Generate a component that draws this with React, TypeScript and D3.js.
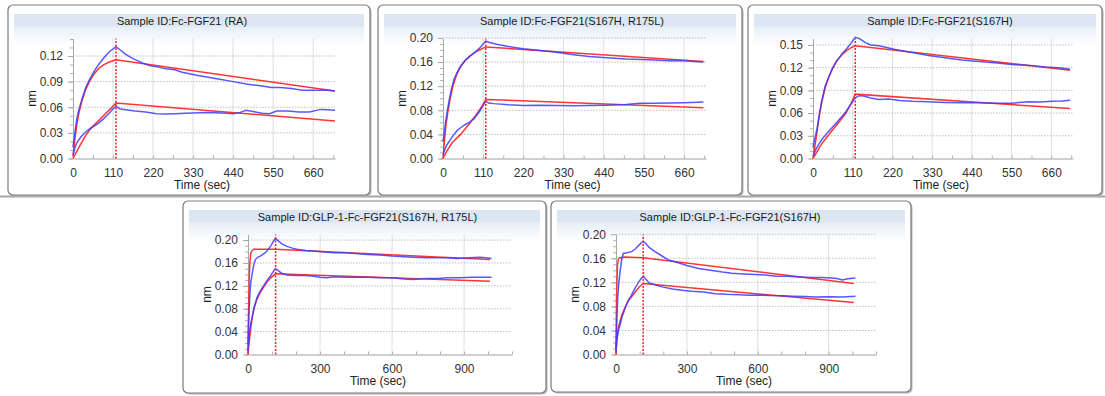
import { useEffect, useRef } from "react"
import * as d3 from "d3"

type Pt = [number, number]

const titles = [
  "Sample ID:Fc-FGF21 (RA)",
  "Sample ID:Fc-FGF21(S167H, R175L)",
  "Sample ID:Fc-FGF21(S167H)",
  "Sample ID:GLP-1-Fc-FGF21(S167H, R175L)",
  "Sample ID:GLP-1-Fc-FGF21(S167H)",
]

// tick values
const shortTimeTicks = [0, 110, 220, 330, 440, 550, 660]
const longTimeTicks = [0, 300, 600, 900]
const ticks003 = [0, 0.03, 0.06, 0.09, 0.12]
const ticks003b = [0, 0.03, 0.06, 0.09, 0.12, 0.15]
const ticks004 = [0, 0.04, 0.08, 0.12, 0.16, 0.2]
const dissociationStart = [118, 117, 117, 115, 115]

// Panel 1 - Fc-FGF21 (RA)
const p1BlueHigh: Pt[] = [[0,0.013],[5,0.03],[10,0.045],[16,0.057],[25,0.07],[35,0.083],[45,0.092],[58,0.102],[72,0.111],[85,0.118],[100,0.125],[118,0.131],[130,0.127],[145,0.122],[165,0.117],[190,0.112],[210,0.109],[235,0.107],[255,0.105],[280,0.104],[300,0.101],[347,0.097],[400,0.093],[440,0.09],[480,0.087],[520,0.085],[545,0.083],[570,0.083],[600,0.082],[630,0.08],[670,0.08],[700,0.08],[720,0.079]]
const p1RedHigh: Pt[] = [[0,0.002],[5,0.022],[10,0.038],[16,0.053],[25,0.068],[35,0.081],[45,0.09],[58,0.099],[72,0.106],[85,0.11],[100,0.113],[118,0.1155],[720,0.079]]
const p1BlueLow: Pt[] = [[0,0.004],[5,0.012],[10,0.018],[16,0.022],[25,0.027],[35,0.031],[44,0.034],[55,0.037],[72,0.042],[85,0.047],[99,0.053],[110,0.058],[118,0.061],[130,0.058],[145,0.057],[170,0.0555],[200,0.0545],[230,0.0525],[255,0.052],[280,0.0525],[310,0.053],[347,0.0535],[380,0.054],[420,0.053],[440,0.0525],[460,0.054],[475,0.0565],[495,0.055],[520,0.053],[540,0.0525],[560,0.0555],[590,0.0555],[620,0.0545],[650,0.0545],[680,0.0575],[700,0.057],[720,0.0565]]
const p1RedLow: Pt[] = [[0,0],[10,0.008],[20,0.016],[35,0.027],[50,0.036],[72,0.045],[90,0.053],[105,0.059],[118,0.065],[720,0.044]]

// Panel 2 - Fc-FGF21(S167H, R175L)
const p2BlueHigh: Pt[] = [[0,0.028],[4,0.045],[7,0.06],[12,0.08],[18,0.1],[24,0.117],[30,0.131],[38,0.142],[48,0.153],[60,0.162],[72,0.169],[85,0.175],[100,0.183],[110,0.19],[117,0.1945],[130,0.192],[150,0.189],[176,0.186],[220,0.182],[267,0.179],[310,0.176],[358,0.172],[400,0.169],[449,0.167],[500,0.165],[540,0.164],[580,0.1635],[620,0.162],[660,0.162],[690,0.161],[713,0.16]]
const p2RedHigh: Pt[] = [[0,0],[4,0.03],[8,0.055],[14,0.08],[20,0.1],[28,0.122],[38,0.14],[48,0.152],[60,0.162],[72,0.169],[85,0.175],[100,0.18],[117,0.185],[713,0.161]]
const p2BlueLow: Pt[] = [[0,0.006],[5,0.015],[10,0.022],[21,0.032],[30,0.04],[40,0.047],[48,0.051],[60,0.056],[72,0.06],[85,0.066],[100,0.078],[110,0.088],[117,0.095],[125,0.092],[139,0.091],[180,0.089],[221,0.088],[260,0.0885],[312,0.088],[360,0.0875],[400,0.088],[450,0.0885],[500,0.0895],[540,0.0915],[580,0.0915],[620,0.092],[660,0.0925],[713,0.0935]]
const p2RedLow: Pt[] = [[0,0],[10,0.012],[25,0.026],[48,0.04],[70,0.056],[90,0.072],[105,0.085],[117,0.098],[713,0.084]]

// Panel 3 - Fc-FGF21(S167H)
const p3BlueHigh: Pt[] = [[0,0.0145],[5,0.026],[11,0.039],[18,0.06],[25,0.078],[34,0.096],[44,0.108],[53,0.118],[65,0.128],[80,0.138],[95,0.146],[108,0.154],[117,0.16],[130,0.158],[145,0.153],[160,0.15],[182,0.149],[228,0.144],[275,0.14],[320,0.136],[366,0.133],[412,0.13],[460,0.128],[510,0.126],[551,0.124],[600,0.123],[643,0.121],[680,0.12],[712,0.118]]
const p3RedHigh: Pt[] = [[0,0],[5,0.015],[11,0.035],[18,0.058],[25,0.076],[34,0.094],[44,0.108],[53,0.118],[65,0.129],[80,0.137],[95,0.143],[108,0.147],[117,0.149],[712,0.1165]]
const p3BlueLow: Pt[] = [[0,0.0035],[8,0.012],[15,0.018],[25,0.0255],[40,0.034],[53,0.041],[70,0.05],[90,0.061],[105,0.072],[117,0.08],[128,0.083],[140,0.0825],[160,0.08],[182,0.078],[210,0.0785],[240,0.0765],[274,0.0755],[320,0.075],[366,0.074],[410,0.0735],[459,0.0735],[500,0.073],[550,0.073],[597,0.075],[630,0.0745],[660,0.0755],[690,0.076],[712,0.077]]
const p3RedLow: Pt[] = [[0,0],[10,0.008],[25,0.02],[40,0.029],[53,0.037],[70,0.047],[90,0.059],[105,0.072],[117,0.085],[712,0.066]]

// Panel 4 - GLP-1-Fc-FGF21(S167H, R175L)
const p4BlueHigh: Pt[] = [[0,0.0175],[3,0.06],[7,0.099],[11,0.125],[17,0.14],[24,0.157],[31,0.166],[40,0.17],[51,0.172],[65,0.176],[79,0.181],[95,0.19],[108,0.199],[114,0.203],[125,0.199],[140,0.194],[162,0.189],[185,0.186],[204,0.184],[240,0.182],[273,0.181],[320,0.179],[360,0.178],[412,0.178],[460,0.176],[500,0.175],[550,0.174],[600,0.172],[650,0.171],[689,0.17],[740,0.169],[790,0.169],[828,0.169],[870,0.168],[920,0.169],[967,0.17],[990,0.169],[1015,0.168]]
const p4RedHigh: Pt[] = [[0,0],[2,0.07],[5,0.134],[8,0.162],[12,0.178],[18,0.182],[24,0.184],[114,0.184],[1008,0.166]]
const p4BlueLow: Pt[] = [[0,0.006],[3,0.025],[7,0.041],[12,0.055],[17,0.064],[25,0.08],[37,0.099],[50,0.11],[65,0.12],[80,0.13],[93,0.137],[105,0.145],[114,0.15],[125,0.147],[140,0.142],[162,0.139],[200,0.138],[240,0.138],[273,0.137],[300,0.135],[329,0.134],[360,0.136],[400,0.135],[450,0.135],[500,0.135],[550,0.134],[600,0.134],[650,0.132],[689,0.131],[740,0.133],[790,0.133],[828,0.134],[880,0.134],[935,0.135],[1015,0.135]]
const p4RedLow: Pt[] = [[0,0],[3,0.015],[7,0.029],[12,0.048],[17,0.064],[25,0.082],[37,0.096],[50,0.108],[65,0.118],[80,0.127],[95,0.134],[114,0.141],[1008,0.128]]

// Panel 5 - GLP-1-Fc-FGF21(S167H)
const p5BlueHigh: Pt[] = [[0,0.01],[3,0.05],[7,0.093],[12,0.12],[17,0.137],[24,0.158],[31,0.168],[45,0.169],[66,0.171],[80,0.175],[95,0.181],[108,0.186],[116,0.188],[125,0.185],[140,0.178],[165,0.171],[190,0.165],[222,0.157],[260,0.153],[300,0.148],[349,0.143],[400,0.14],[450,0.137],[490,0.135],[540,0.134],[590,0.133],[632,0.132],[680,0.13],[730,0.13],[773,0.129],[820,0.128],[870,0.128],[914,0.127],[940,0.126],[957,0.124],[980,0.126],[1013,0.127]]
const p5RedHigh: Pt[] = [[0,0],[2,0.09],[6,0.148],[10,0.158],[15,0.161],[38,0.162],[116,0.161],[1006,0.118]]
const p5BlueLow: Pt[] = [[0,0.004],[3,0.02],[7,0.032],[12,0.043],[17,0.049],[25,0.062],[38,0.076],[50,0.088],[66,0.099],[80,0.11],[95,0.12],[108,0.127],[116,0.13],[125,0.126],[140,0.119],[165,0.116],[200,0.112],[240,0.109],[278,0.107],[320,0.105],[370,0.104],[420,0.101],[470,0.1],[520,0.0995],[561,0.0986],[600,0.099],[650,0.098],[703,0.0975],[750,0.097],[800,0.0965],[844,0.0958],[900,0.096],[960,0.0955],[1013,0.097]]
const p5RedLow: Pt[] = [[0,0],[3,0.025],[7,0.038],[12,0.048],[17,0.055],[25,0.066],[38,0.078],[50,0.088],[66,0.096],[85,0.106],[100,0.113],[116,0.118],[1006,0.0864]]

const panels = [
  { box: { x: 8, y: 5, w: 362, h: 190 }, titleDx: -7, plotW: 262, xMax: 720, yMax: 0.1405, xTicks: shortTimeTicks, xMinor: 55, yTicks: ticks003, yMinor: 0.01, blue: [p1BlueHigh, p1BlueLow], red: [p1RedHigh, p1RedLow] },
  { box: { x: 378, y: 5, w: 364, h: 190 }, titleDx: 12, plotW: 263, xMax: 720, yMax: 0.199, xTicks: shortTimeTicks, xMinor: 55, yTicks: ticks004, yMinor: 0.01, blue: [p2BlueHigh, p2BlueLow], red: [p2RedHigh, p2RedLow] },
  { box: { x: 748, y: 5, w: 354, h: 190 }, titleDx: 15, plotW: 260, xMax: 720, yMax: 0.1585, xTicks: shortTimeTicks, xMinor: 55, yTicks: ticks003b, yMinor: 0.01, blue: [p3BlueHigh, p3BlueLow], red: [p3RedHigh, p3RedLow] },
  { box: { x: 183, y: 201, w: 363, h: 192 }, titleDx: 3, plotW: 264, xMax: 1100, yMax: 0.2098, xTicks: longTimeTicks, xMinor: 100, yTicks: ticks004, yMinor: 0.01, blue: [p4BlueHigh, p4BlueLow], red: [p4RedHigh, p4RedLow] },
  { box: { x: 551, y: 201, w: 360, h: 191 }, titleDx: -1, plotW: 260, xMax: 1100, yMax: 0.1995, xTicks: longTimeTicks, xMinor: 100, yTicks: ticks004, yMinor: 0.01, blue: [p5BlueHigh, p5BlueLow], red: [p5RedHigh, p5RedLow] },
]

const FONT = "'Liberation Sans', Arial, sans-serif"

export default function App() {
  const svgRef = useRef<SVGSVGElement | null>(null)

  useEffect(() => {
    if (!svgRef.current) return
    const svg = d3.select(svgRef.current)
    svg.selectAll("*").remove()

    const defs = svg.append("defs")
    const grad = defs.append("linearGradient").attr("id", "hdr").attr("x1", 0).attr("y1", 0).attr("x2", 0).attr("y2", 1)
    grad.append("stop").attr("offset", "0%").attr("stop-color", "#e4edf7")
    grad.append("stop").attr("offset", "100%").attr("stop-color", "#ffffff")

    svg.append("rect").attr("width", 1105).attr("height", 396).attr("fill", "#fff")

    // separator strip under the top row
    svg.append("line").attr("x1", 0).attr("x2", 1105).attr("y1", 196.5).attr("y2", 196.5)
      .attr("stroke", "#a6a6a6").attr("stroke-width", 2)

    panels.forEach((p, i) => {
      const g = svg.append("g").attr("transform", `translate(${p.box.x},${p.box.y})`)

      // panel frame with shadow
      g.append("rect").attr("x", 1.5).attr("y", 1.5).attr("width", p.box.w).attr("height", p.box.h)
        .attr("rx", 5).attr("fill", "#b8b8b8")
      g.append("rect").attr("width", p.box.w).attr("height", p.box.h).attr("rx", 5)
        .attr("fill", "#fff").attr("stroke", "#7a7a7a").attr("stroke-width", 1.2)

      // header
      g.append("rect").attr("x", 6).attr("y", 20).attr("width", p.box.w - 12).attr("height", 20).attr("fill", "url(#hdr)")
      g.append("rect").attr("x", 6).attr("y", 9).attr("width", p.box.w - 12).attr("height", 12.5).attr("fill", "#dbe6f2")
      g.append("text").attr("x", p.box.w / 2 + p.titleDx).attr("y", 16).attr("dy", "0.35em")
        .attr("text-anchor", "middle").style("font-family", FONT).style("font-size", "11px").style("fill", "#1a1a1a")
        .text(titles[i])

      const x0 = 65
      const y0 = 153.5
      const plotH = 120
      const x = d3.scaleLinear().domain([0, p.xMax]).range([x0, x0 + p.plotW])
      const y = d3.scaleLinear().domain([0, p.yMax]).range([y0, y0 - plotH])

      // grid
      g.append("g").selectAll("line").data(p.xTicks.filter((d) => d > 0)).enter().append("line")
        .attr("x1", (d) => x(d)).attr("x2", (d) => x(d)).attr("y1", y0).attr("y2", y0 - plotH)
        .attr("stroke", "#dedede").attr("stroke-width", 1)
      g.append("g").selectAll("line").data(p.yTicks.filter((d) => d > 0)).enter().append("line")
        .attr("x1", x0).attr("x2", x0 + p.plotW).attr("y1", (d) => y(d)).attr("y2", (d) => y(d))
        .attr("stroke", "#bdbdbd").attr("stroke-width", 1).attr("stroke-dasharray", "1.5,1.5")

      // minor ticks
      const yMinorTicks = d3.range(0, p.yMax + 1e-9, p.yMinor)
      g.append("g").attr("transform", `translate(${x0},0)`)
        .call(d3.axisLeft(y).tickValues(yMinorTicks).tickSize(3).tickSizeOuter(0).tickFormat(() => ""))
        .call((a) => a.select(".domain").remove())
        .call((a) => a.selectAll("line").attr("stroke", "#b0b0b0"))
      const xMinorTicks = d3.range(0, p.xMax + 1e-9, p.xMinor)
      g.append("g").attr("transform", `translate(0,${y0})`)
        .call(d3.axisTop(x).tickValues(xMinorTicks).tickSize(3).tickSizeOuter(0).tickFormat(() => ""))
        .call((a) => a.select(".domain").remove())
        .call((a) => a.selectAll("line").attr("stroke", "#b0b0b0"))

      // y axis
      g.append("g").attr("transform", `translate(${x0},0)`)
        .call(d3.axisLeft(y).tickValues(p.yTicks).tickSize(5).tickSizeOuter(0).tickPadding(5).tickFormat(d3.format(".2f")))
        .call((a) => a.select(".domain").attr("stroke", "#a8a8a8"))
        .call((a) => a.selectAll("line").attr("stroke", "#a8a8a8"))
        .call((a) => a.selectAll("text").style("font-family", FONT).style("font-size", "12px").attr("fill", "#333"))

      // x axis
      g.append("g").attr("transform", `translate(0,${y0})`)
        .call(d3.axisBottom(x).tickValues(p.xTicks).tickSize(0).tickSizeOuter(0))
        .call((a) => a.select(".domain").attr("stroke", "#a0a0a0"))
        .call((a) => a.selectAll("text").attr("y", 14).attr("dy", "0.35em")
          .style("font-family", FONT).style("font-size", "12px").attr("fill", "#333"))

      // axis titles
      g.append("text").attr("x", (x0 + x0 + p.plotW) / 2 - 2).attr("y", y0 + 26).attr("dy", "0.35em")
        .attr("text-anchor", "middle").style("font-family", FONT).style("font-size", "12px").style("fill", "#222")
        .text("Time (sec)")
      g.append("text").attr("transform", `translate(24,${y0 - plotH / 2}) rotate(-90)`).attr("dy", "0.35em")
        .attr("text-anchor", "middle").style("font-family", FONT).style("font-size", "12px").style("fill", "#222")
        .text("nm")

      // curves
      const line = d3.line<Pt>().x((d) => x(d[0])).y((d) => y(d[1])).curve(d3.curveLinear)
      p.red.forEach((s) => {
        g.append("path").attr("d", line(s) ?? "").attr("fill", "none")
          .attr("stroke", "#ff3535").attr("stroke-width", 1.5)
      })
      p.blue.forEach((s) => {
        g.append("path").attr("d", line(s) ?? "").attr("fill", "none")
          .attr("stroke", "#3b3bff").attr("stroke-width", 1.5).attr("stroke-opacity", 0.85)
      })

      // dissociation start marker
      const tx = x(dissociationStart[i])
      g.append("line").attr("x1", tx).attr("x2", tx).attr("y1", y0).attr("y2", y0 - plotH)
        .attr("stroke", "#e3262b").attr("stroke-width", 1.5).attr("stroke-dasharray", "2,1.5")
    })
  }, [])

  return (
    <svg
      ref={svgRef}
      width={1105}
      height={396}
      style={{ position: "absolute", left: 0, top: 0, display: "block" }}
    />
  )
}
